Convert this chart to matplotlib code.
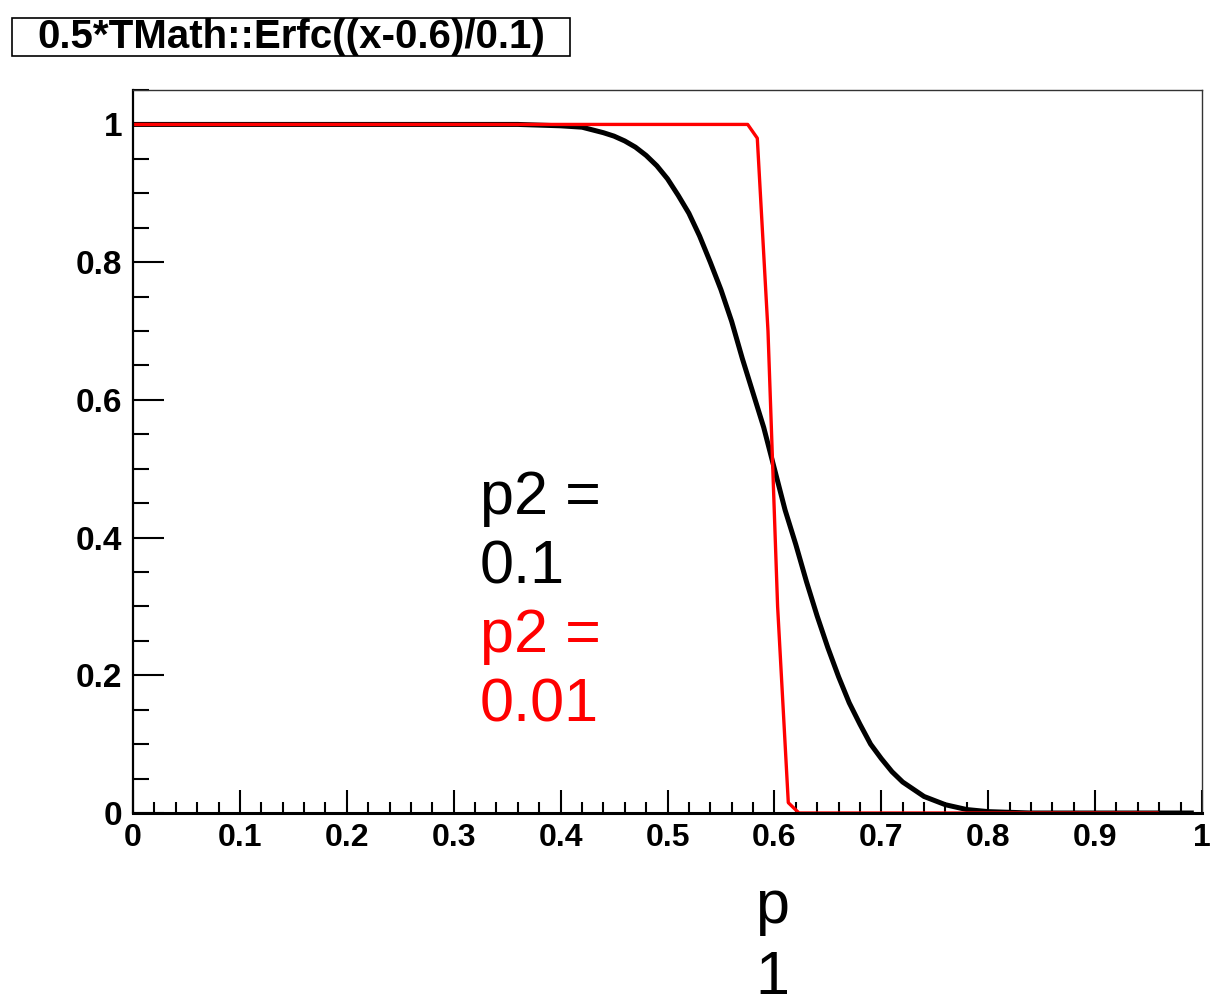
import matplotlib
matplotlib.use("Agg")
import matplotlib.pyplot as plt
from matplotlib.patches import Rectangle
from matplotlib.ticker import MultipleLocator

plt.rcParams['font.family'] = ['Liberation Sans', 'DejaVu Sans']

# values
black_x = [0.0, 0.36, 0.40, 0.42, 0.44, 0.45, 0.46, 0.47, 0.48, 0.49, 0.50, 0.51,
           0.52, 0.53, 0.54, 0.55, 0.56, 0.57, 0.58, 0.59, 0.60, 0.61, 0.62, 0.63,
           0.64, 0.65, 0.66, 0.67, 0.68, 0.69, 0.70, 0.71, 0.72, 0.74, 0.76, 0.78,
           0.80, 0.84, 0.99]
black_y = [1.0, 1.0, 0.998, 0.996, 0.988, 0.983, 0.976, 0.967, 0.955, 0.94, 0.921, 0.897,
           0.871, 0.838, 0.80, 0.76, 0.714, 0.66, 0.61, 0.56, 0.50, 0.44, 0.39, 0.336,
           0.286, 0.24, 0.198, 0.16, 0.129, 0.10, 0.079, 0.06, 0.045, 0.024, 0.012, 0.005,
           0.002, 0.0, 0.0]

red_x = [0.0, 0.575, 0.584, 0.594, 0.603, 0.613, 0.623, 0.958]
red_y = [1.0, 1.0, 0.98, 0.70, 0.30, 0.015, 0.0, 0.0]

title = "0.5*TMath::Erfc((x-0.6)/0.1)"
W, H = 1210, 1000

fig = plt.figure(figsize=(W / 100, H / 100), dpi=100)
ax = fig.add_axes([133 / W, 1 - 813 / H, (1202 - 133) / W, (813 - 90) / H])

ax.plot(black_x, black_y, color='black', lw=3.6, solid_joinstyle='round')
ax.plot(red_x, red_y, color='red', lw=2.4)

ax.set_xlim(0, 1)
ax.set_ylim(0, 1.05)
ax.xaxis.set_major_locator(MultipleLocator(0.1))
ax.xaxis.set_minor_locator(MultipleLocator(0.02))
ax.yaxis.set_major_locator(MultipleLocator(0.2))
ax.yaxis.set_minor_locator(MultipleLocator(0.05))
ax.xaxis.set_major_formatter(plt.FuncFormatter(lambda v, p: f"{v:g}"))
ax.yaxis.set_major_formatter(plt.FuncFormatter(lambda v, p: f"{v:g}"))

ax.tick_params(axis='x', which='major', direction='in', length=16.5, width=1.5,
               pad=7, labelsize=23)
ax.tick_params(axis='x', which='minor', direction='in', length=8, width=1.5)
ax.tick_params(axis='y', which='major', direction='in', length=22, width=1.5,
               pad=8, labelsize=24)
ax.tick_params(axis='y', which='minor', direction='in', length=11.5, width=1.5)
for lab in ax.get_xticklabels() + ax.get_yticklabels():
    lab.set_fontweight('bold')

ax.spines['bottom'].set_linewidth(2.2)
ax.spines['left'].set_linewidth(1.6)
ax.spines['top'].set_linewidth(1.0)
ax.spines['right'].set_linewidth(1.0)
ax.spines['top'].set_color('#333333')
ax.spines['right'].set_color('#333333')

# title box
fig.patches.append(Rectangle((12 / W, 1 - 56 / H), (570 - 12) / W, (56 - 18) / H,
                             transform=fig.transFigure, fill=True, fc='white',
                             ec='black', lw=1.2))
fig.text(291 / W, 1 - 37 / H, title, ha='center', va='center',
         fontsize=29, fontweight='bold')

# labels
fig.text(480 / W, 1 - 514 / H, "p2 =", fontsize=44, color='black', va='baseline')
fig.text(480 / W, 1 - 583 / H, "0.1", fontsize=44, color='black', va='baseline')
fig.text(480 / W, 1 - 652 / H, "p2 =", fontsize=44, color='red', va='baseline')
fig.text(480 / W, 1 - 721 / H, "0.01", fontsize=44, color='red', va='baseline')
fig.text(772 / W, 1 - 923 / H, "p", fontsize=44, ha='center', va='baseline')
fig.text(772 / W, 1 - 994 / H, "1", fontsize=44, ha='center', va='baseline')

fig.savefig("out.png", dpi=100)
